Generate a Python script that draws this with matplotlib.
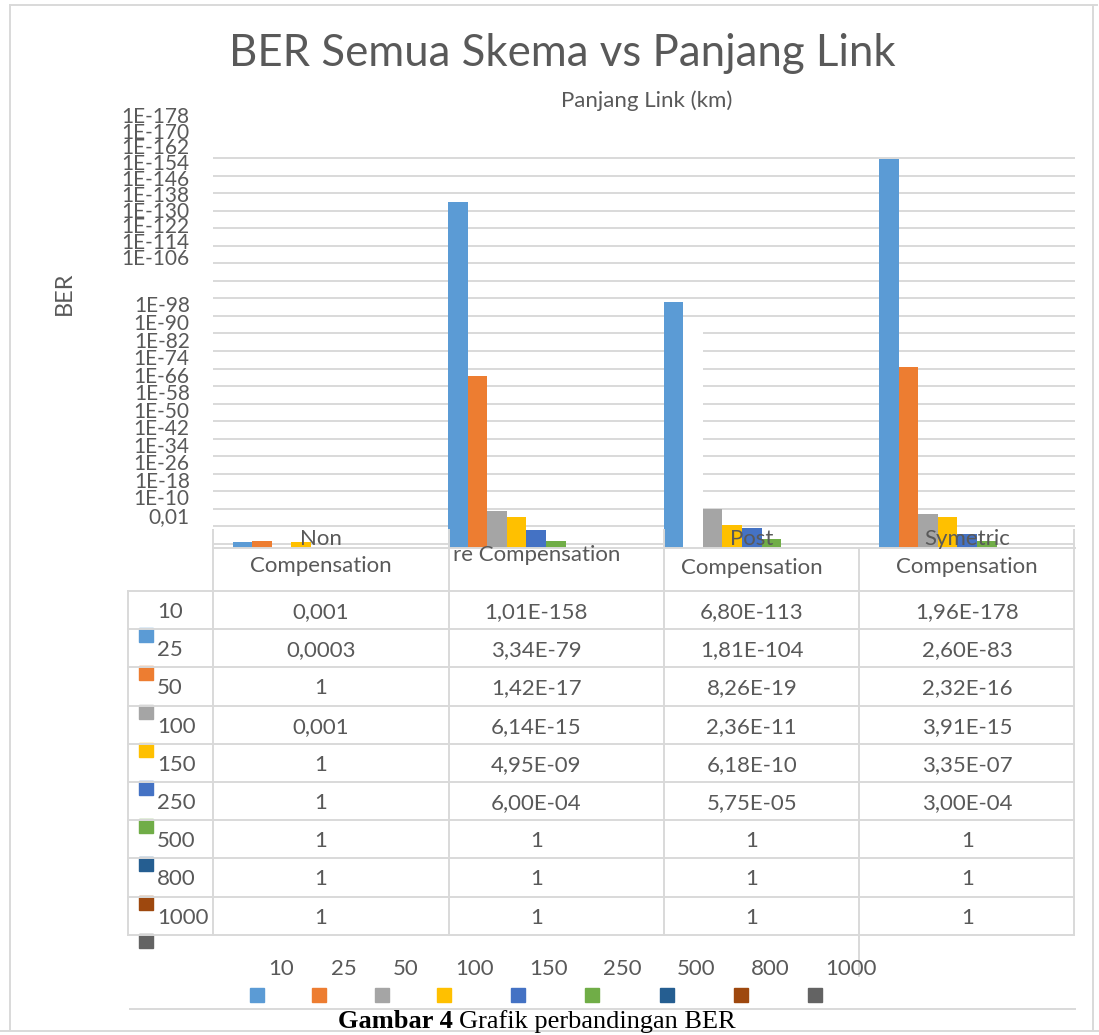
import numpy as np
import matplotlib.pyplot as plt
from matplotlib.lines import Line2D
from matplotlib.patches import Rectangle

# data (BER per scheme, one value per link length)
schemes = ["Non Compensation", "Pre Compensation", "Post Compensation", "Symetric Compensation"]
lengths = ["10", "25", "50", "100", "150", "250", "500", "800", "1000"]
ber_non = [1e-3, 3e-4, 1, 1e-3, 1, 1, 1, 1, 1]
ber_pre = [1.01e-158, 3.34e-79, 1.42e-17, 6.14e-15, 4.95e-09, 6.00e-04, 1, 1, 1]
ber_post = [6.80e-113, 1.81e-104, 8.26e-19, 2.36e-11, 6.18e-10, 5.75e-05, 1, 1, 1]
ber_sym = [1.96e-178, 2.60e-83, 2.32e-16, 3.91e-15, 3.35e-07, 3.00e-04, 1, 1, 1]
ytick_exp = list(range(2, 179, 8))

colors = ["#5B9BD5", "#ED7D31", "#A5A5A5", "#FFC000", "#4472C4",
          "#70AD47", "#255E91", "#9E480E", "#636363"]
txt = "#595959"
grid = "#d9d9d9"

plt.rcParams['font.family'] = ['Lato', 'DejaVu Sans']

W, H = 1099, 1035
fig = plt.figure(figsize=(W / 100, H / 100), dpi=100)


def fx(x):
    return x / W


def fy(y):
    return 1 - y / H


def hline(y, x0, x1, color=grid, lw=1.4):
    fig.add_artist(Line2D([fx(x0), fx(x1)], [fy(y), fy(y)], color=color, lw=lw,
                          transform=fig.transFigure))


def vline(x, y0, y1, color=grid, lw=1.4):
    fig.add_artist(Line2D([fx(x), fx(x)], [fy(y0), fy(y1)], color=color, lw=lw,
                          transform=fig.transFigure))


ax = fig.add_axes([fx(213), fy(548.4), fx(1075) - fx(213), fy(155.8) - fy(548.4)])

ber = np.array([ber_non, ber_pre, ber_post, ber_sym])
x = np.arange(len(schemes))
w = 0.0905
for j, lab in enumerate(lengths):
    bars = ax.bar(x + (j - 4) * w, -np.log10(ber[:, j]), w, color=colors[j], zorder=2)
    if j == 1:
        bars[2].set_facecolor("white")  # rendered blank in the original

ax.set_xlim(-0.5, 3.5)
ax.set_ylim(0, 179)
ax.set_yticks(ytick_exp)
ax.yaxis.grid(True, color=grid, lw=1.4, zorder=0)
ax.tick_params(left=False, bottom=False, labelleft=False, labelbottom=False)
for s in ["top", "right", "left"]:
    ax.spines[s].set_visible(False)
ax.spines["bottom"].set_color(grid)
ax.spines["bottom"].set_linewidth(1.4)

# y labels (drawn as in the source, crowded at the top)
ytr = ax.get_yaxis_transform()
for e in ytick_exp:
    lab = "0,01" if e == 2 else f"1E-{e}"
    yy = e + 12.3 if e <= 98 else 132.0 + (e - 106) * 0.899
    ax.text(-0.027, yy, lab, transform=ytr, ha="right", va="center",
            fontsize=15, color=txt, clip_on=False)

fig.text(fx(562), fy(53), "BER Semua Skema vs Panjang Link", ha="center", va="center",
         fontsize=31.5, color=txt)
fig.text(fx(647), fy(101), "Panjang Link (km)", ha="center", va="center",
         fontsize=16, color=txt)
fig.text(fx(64), fy(293), "BER", rotation=90, ha="center", va="center",
         fontsize=17, color=txt)

# category labels
cat_lines = [("Non", "Compensation"), (None, "re Compensation"),
             ("Post", "Compensation"), ("Symetric", "Compensation")]
cat_y = [(539, 566), (None, 555), (539, 568), (539, 567)]
for i, (top, bot) in enumerate(cat_lines):
    xc = ax.transData.transform((x[i], 0))[0] / W
    if top:
        fig.text(xc, fy(cat_y[i][0]), top, ha="center", va="center",
                 fontsize=16, color=txt, zorder=5)
    fig.text(xc, fy(cat_y[i][1]), bot, ha="center", va="center", fontsize=16, color=txt)

# data table
col_x = [213, 449, 664, 859, 1074]
row0, rh = 591, 38.2
for xc in col_x:
    vline(xc, 530 if xc != 859 else 548, 591)
    vline(xc, 591, 935)
vline(859, 935, 976)
vline(128, 591, 935)
for r in range(len(lengths) + 1):
    hline(row0 + r * rh, 128, 1074)


def fmt(v, col):
    if v == 1:
        return "1"
    if col == 0:
        return np.format_float_positional(v).replace(".", ",")
    return f"{v:.2E}".replace(".", ",")


for r, lab in enumerate(lengths):
    yc = fy(row0 + (r + 0.55) * rh)
    fig.text(fx(157), yc, lab, ha="left", va="center", fontsize=16, color=txt)
    fig.add_artist(Rectangle((fx(139), fy(row0 + (r + 1) * rh + 13)), 14 / W, 14 / H,
                             color=colors[r], transform=fig.transFigure))
    for c in range(len(schemes)):
        xc = ax.transData.transform((x[c], 0))[0] / W
        fig.text(xc, yc, fmt(ber[c, r], c), ha="center", va="center",
                 fontsize=16, color=txt)

# legend strip
lx = 250
for j, lab in enumerate(lengths):
    fig.add_artist(Rectangle((fx(lx), fy(1002)), 14 / W, 14 / H, color=colors[j],
                             transform=fig.transFigure))
    fig.text(fx(lx + 19 + 6 * len(lab)), fy(969), lab, ha="center", va="center",
             fontsize=16, color=txt)
    lx += 39 + 11.7 * len(lab)

# frame and caption
hline(5, 10, 1097)
vline(10, 5, 1030)
vline(1093, 5, 1030)
hline(1009, 130, 1075)
hline(1031, 0, 1099)
cap1 = fig.text(fx(338), fy(1022), "Gambar 4", ha="left", va="center", fontsize=19,
                family="Liberation Serif", weight="bold", color="black")
bb = cap1.get_window_extent(renderer=fig.canvas.get_renderer())
fig.text(fx(bb.x1 + 6), fy(1022), "Grafik perbandingan BER", ha="left", va="center",
         fontsize=19, family="Liberation Serif", color="black")

fig.savefig("out.png", dpi=100, facecolor="white")
